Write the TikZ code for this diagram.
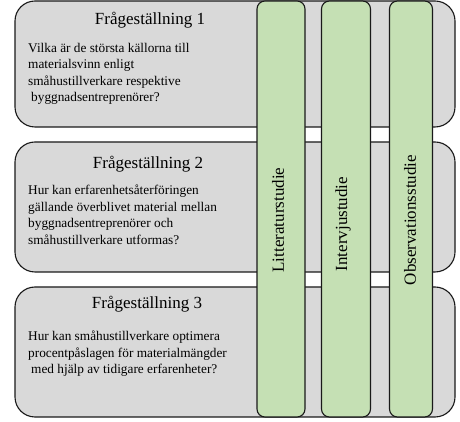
\documentclass[tikz,border=0pt]{standalone}
\usepackage{fontspec}
\setmainfont{Liberation Serif}
\usetikzlibrary{positioning}
\definecolor{boxgray}{HTML}{D9D9D9}
\definecolor{studygreen}{HTML}{C5E0B4}

\begin{document}
\begin{tikzpicture}[x=1pt,y=1pt]
                \tikzstyle{every node}=[inner sep=0pt]
                \tikzstyle{question} = [draw=black!90, fill=boxgray, rounded corners=20pt, line width=1.1pt, minimum width=440pt]
                \tikzstyle{study} = [draw=black!90, fill=studygreen, rounded corners=8pt, line width=1.1pt, minimum height=416pt]
                \tikzstyle{qtitle} = [font=\fontsize{17}{20}\selectfont, anchor=base]
                \tikzstyle{qtext} = [font=\fontsize{13.3}{16.5}\selectfont, align=left, anchor=north west]
                \tikzstyle{studytext} = [font=\fontsize{17}{20}\selectfont, rotate=90]

                \useasboundingbox (0,0) rectangle (460,422);

                \node[question, minimum height=126pt](q1) at (235,358) {};
                \node[question, minimum height=130pt](q2) at (235,215) {};
                \node[question, minimum height=130pt](q3) at (235,70) {};

                \node[study, minimum width=48pt](m1) at (281,213) {};
                \node[study, minimum width=49pt](m2) at (346,213) {};
                \node[study, minimum width=43pt](m3) at (411,213) {};

                \node[studytext](s1) at (278,202) {Litteraturstudie};
                \node[studytext](s2) at (343,198) {Intervjustudie};
                \node[studytext](s3) at (410,202) {Observationsstudie};

                \node[qtitle](t1) at (150,397) {Frågeställning 1};
                \node[qtitle](t2) at (148,253) {Frågeställning 2};
                \node[qtitle](t3) at (147,113) {Frågeställning 3};

                \node[qtext](f1) at (28,379) {Vilka är de största källorna till\\materialsvinn enligt\\småhustillverkare respektive\\\hspace*{3pt}byggnadsentreprenörer?};
                \node[qtext](f2) at (28,237) {Hur kan erfarenhetsåterföringen\\gällande överblivet material mellan\\byggnadsentreprenörer och\\småhustillverkare utformas?};
                \node[qtext](f3) at (28,91) {Hur kan småhustillverkare optimera\\procentpåslagen för materialmängder\\\hspace*{3pt}med hjälp av tidigare erfarenheter?};
        \end{tikzpicture}
\end{document}
